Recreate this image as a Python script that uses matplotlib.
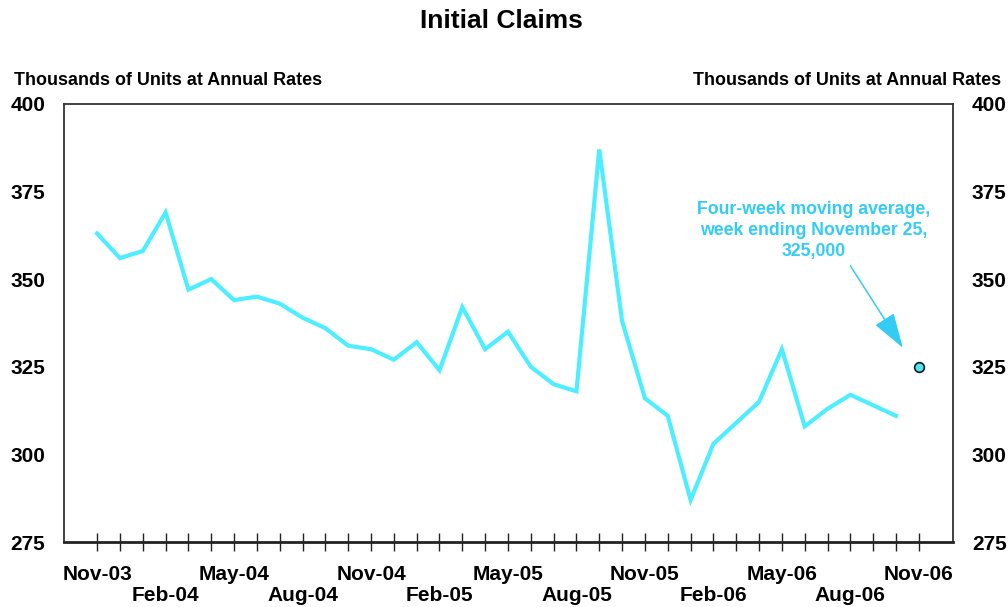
import matplotlib
matplotlib.use("Agg")
import matplotlib.pyplot as plt

plt.rcParams['font.family'] = ['Liberation Sans', 'DejaVu Sans']
plt.rcParams['font.weight'] = 'bold'

# Monthly initial claims, thousands (Nov-03 .. Oct-06)
months = ["Nov-03", "Dec-03", "Jan-04", "Feb-04", "Mar-04", "Apr-04", "May-04", "Jun-04",
          "Jul-04", "Aug-04", "Sep-04", "Oct-04", "Nov-04", "Dec-04", "Jan-05", "Feb-05",
          "Mar-05", "Apr-05", "May-05", "Jun-05", "Jul-05", "Aug-05", "Sep-05", "Oct-05",
          "Nov-05", "Dec-05", "Jan-06", "Feb-06", "Mar-06", "Apr-06", "May-06", "Jun-06",
          "Jul-06", "Aug-06", "Sep-06", "Oct-06", "Nov-06"]
claims = [363, 356, 358, 369, 347, 350, 344, 345, 343, 339, 336, 331, 330, 327, 332, 324,
          342, 330, 335, 325, 320, 318, 387, 338, 316, 311, 287, 303, 309, 315, 330, 308,
          313, 317, 314, 311]
latest_value = 325  # four-week moving average, week ending November 25

yticks = [275, 300, 325, 350, 375, 400]

line_color = '#4DEEFF'
note_color = '#33CCF5'

fig = plt.figure(figsize=(10.08, 6.07), dpi=100)
ax = fig.add_axes([0.0635, 0.107, 0.882, 0.722])

x = list(range(len(claims)))
ax.plot(x, claims, color=line_color, lw=3, solid_joinstyle='miter', zorder=3)
last_x = len(months) - 1
ax.plot([last_x], [latest_value], 'o', ms=7, mfc='#4DE4F5', mec='#1a1a1a',
        mew=1.2, zorder=4)

ax.set_xlim(-1.45, last_x + 1.5)
ax.set_ylim(yticks[0], yticks[-1])

# monthly tick marks, labels every third month on alternating rows
ax.set_xticks(range(len(months)), minor=True)
label_pos = list(range(0, len(months), 3))
labels = [months[i] if k % 2 == 0 else "\n" + months[i] for k, i in enumerate(label_pos)]
ax.set_xticks(label_pos)
ax.set_xticklabels(labels, fontsize=15, fontweight='bold', linespacing=1.12)
ax.tick_params(axis='x', which='both', direction='inout', length=13, width=1,
               color='#222222', pad=10)

ax.set_yticks(yticks)
ax.set_yticklabels([str(v) for v in yticks], fontsize=15, fontweight='bold')
ax.tick_params(axis='y', which='both', length=0, pad=13.5, labelright=True, right=False)

for side in ['left', 'right', 'top']:
    ax.spines[side].set_color('#333333')
    ax.spines[side].set_linewidth(1.3)
ax.spines['bottom'].set_color('#222222')
ax.spines['bottom'].set_linewidth(2)

fig.text(0.497, 0.966, "Initial Claims", ha='center', va='center', fontsize=19,
         fontweight='bold')
fig.text(0.014, 0.868, "Thousands of Units at Annual Rates", ha='left', va='center',
         fontsize=12.9, fontweight='bold')
fig.text(0.993, 0.868, "Thousands of Units at Annual Rates", ha='right', va='center',
         fontsize=12.9, fontweight='bold')

# callout for the latest four-week average
ax.text(31.4, 363.8, "Four-week moving average,\nweek ending November 25,\n325,000",
        ha='center', va='center', fontsize=12.7, fontweight='bold', color=note_color,
        linespacing=1.3)
ax.annotate("", xy=(last_x - 0.7, latest_value + 5.4), xytext=(33.0, 353.8),
            arrowprops=dict(arrowstyle='-|>,head_length=2.2,head_width=0.7',
                            color=note_color, lw=1.1, shrinkA=0, shrinkB=0))

fig.savefig("out.png", dpi=100, facecolor='white')
